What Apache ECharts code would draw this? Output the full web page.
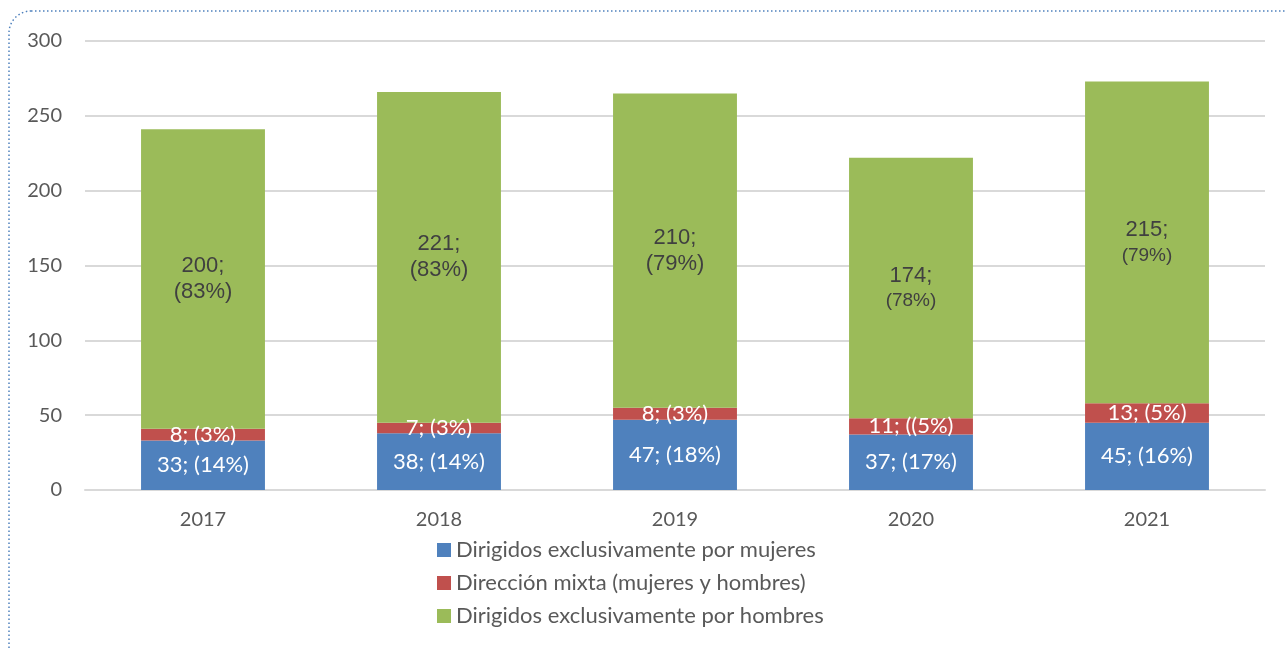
<!DOCTYPE html>
<html>
<head>
<meta charset="utf-8">
<script src="https://cdn.jsdelivr.net/npm/echarts@6/dist/echarts.min.js"></script>
<style>
  html, body { margin: 0; padding: 0; background: #fff; }
  #chart { width: 1285px; height: 650px; }
</style>
</head>
<body>
<div id="chart"></div>
<script>
// datos
const years = ["2017", "2018", "2019", "2020", "2021"];
const mujeres = [33, 38, 47, 37, 45];
const mixta = [8, 7, 8, 11, 13];
const hombres = [200, 221, 210, 174, 215];
const mujeresLabels = ["33; (14%)", "38; (14%)", "47; (18%)", "37; (17%)", "45; (16%)"];
const mixtaLabels = ["8; (3%)", "7; (3%)", "8; (3%)", "11; ((5%)", "13; (5%)"];
const hombresNum = ["200;", "221;", "210;", "174;", "215;"];
const hombresPct = ["(83%)", "(83%)", "(79%)", "(78%)", "(79%)"];
const seriesNames = [
  "Dirigidos exclusivamente por mujeres",
  "Dirección mixta (mujeres y hombres)",
  "Dirigidos exclusivamente por hombres"
];

const chart = echarts.init(document.getElementById("chart"));

const whiteLabel = (texts) => ({
  show: true,
  position: "inside",
  color: "#ffffff",
  fontFamily: "Lato, 'Open Sans', sans-serif",
  fontSize: 22,
  formatter: (p) => texts[p.dataIndex]
});

const option = {
  animation: false,
  backgroundColor: "#ffffff",
  grid: { left: 85, right: 20, top: 41, bottom: 160 },
  graphic: [
    {
      type: "rect",
      shape: { x: 9, y: 11, width: 1300, height: 700, r: 22 },
      style: { fill: "none", stroke: "#4f81bd", lineWidth: 1.5, lineDash: [1.5, 2.5] },
      silent: true
    }
  ],
  legend: {
    orient: "vertical",
    left: 437,
    top: 539,
    padding: 0,
    itemWidth: 14,
    itemHeight: 14,
    itemGap: 11,
    icon: "rect",
    textStyle: { color: "#595959", fontSize: 22, fontFamily: "Lato, 'Open Sans', sans-serif" },
    data: seriesNames
  },
  xAxis: {
    type: "category",
    data: years,
    axisTick: { show: false },
    axisLine: { lineStyle: { color: "#d9d9d9", width: 2 } },
    axisLabel: { color: "#595959", fontSize: 20, margin: 20, fontFamily: "Lato, 'Open Sans', sans-serif" }
  },
  yAxis: {
    type: "value",
    min: 0,
    max: 300,
    interval: 50,
    axisLine: { show: false },
    axisTick: { show: false },
    splitLine: { lineStyle: { color: "#d9d9d9", width: 2 } },
    axisLabel: { color: "#595959", fontSize: 20, margin: 23, fontFamily: "Lato, 'Open Sans', sans-serif" }
  },
  series: [
    {
      name: seriesNames[0],
      type: "bar",
      stack: "total",
      barWidth: "52.5%",
      data: mujeres,
      itemStyle: { color: "#4f81bd" },
      label: whiteLabel(mujeresLabels)
    },
    {
      name: seriesNames[1],
      type: "bar",
      stack: "total",
      data: mixta,
      itemStyle: { color: "#c0504d" },
      label: whiteLabel(mixtaLabels)
    },
    {
      name: seriesNames[2],
      type: "bar",
      stack: "total",
      data: hombres,
      itemStyle: { color: "#9bbb59" },
      label: {
        show: true,
        position: "inside",
        formatter: (p) => {
          const small = p.dataIndex >= 3;
          return "{n|" + hombresNum[p.dataIndex] + "}\n{" + (small ? "s" : "b") + "|" + hombresPct[p.dataIndex] + "}";
        },
        rich: {
          n: { color: "#404040", fontSize: 22, lineHeight: 26, fontFamily: "'Liberation Sans', Arial, sans-serif" },
          b: { color: "#404040", fontSize: 22, lineHeight: 26, fontFamily: "'Liberation Sans', Arial, sans-serif" },
          s: { color: "#404040", fontSize: 19, lineHeight: 24, fontFamily: "'Liberation Sans', Arial, sans-serif" }
        }
      }
    }
  ]
};

chart.setOption(option);
</script>
</body>
</html>
